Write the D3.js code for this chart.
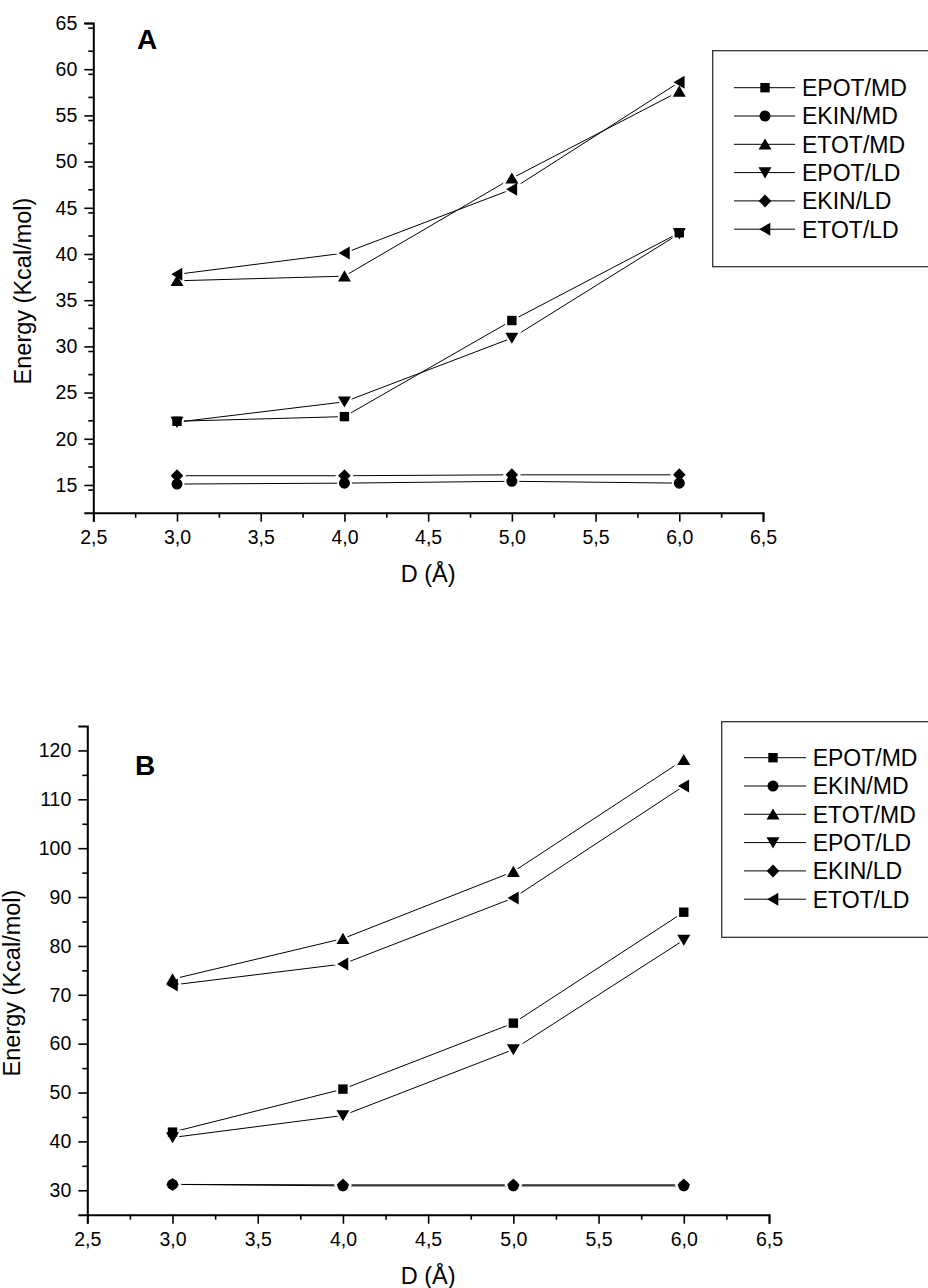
<!DOCTYPE html>
<head>
  <meta charset="UTF-8">
  <title>energy</title>
  <style>
  body, html, svg{
    padding: 0;
    margin: 0;
  }
  body{
    background: #fff;
  }
  svg text{
    font-family: "Liberation Sans", Arial, sans-serif;
    fill: #000;
  }
  </style>
</head>
<body>
  <script src="https://cdn.jsdelivr.net/npm/d3@7/dist/d3.min.js"></script>
  <script type="text/javascript">
  // data
  var distances = [3.0, 4.0, 5.0, 6.0];
  var seriesNames = ['EPOT/MD', 'EKIN/MD', 'ETOT/MD', 'EPOT/LD', 'EKIN/LD', 'ETOT/LD'];
  var seriesMarkers = ['square', 'circle', 'up', 'down', 'diamond', 'left'];

  // panel A
  var aEpotMD = [21.9, 22.4, 32.8, 42.3];
  var aEkinMD = [15.1, 15.2, 15.4, 15.2];
  var aEtotMD = [37.1, 37.6, 48.2, 57.6];
  var aEpotLD = [21.8, 24.0, 30.9, 42.2];
  var aEkinLD = [16.0, 16.0, 16.1, 16.1];
  var aEtotLD = [37.8, 40.1, 47.0, 58.6];
  var aYTicks = [15, 20, 25, 30, 35, 40, 45, 50, 55, 60, 65];

  // panel B
  var bEpotMD = [41.9, 50.7, 64.2, 86.9];
  var bEkinMD = [31.2, 30.9, 30.9, 30.9];
  var bEtotMD = [73.2, 81.5, 95.2, 118.1];
  var bEpotLD = [40.8, 45.3, 58.8, 81.2];
  var bEkinLD = [31.2, 31.1, 31.1, 31.1];
  var bEtotLD = [72.0, 76.3, 89.8, 112.7];
  var bYTicks = [30, 40, 50, 60, 70, 80, 90, 100, 110, 120];

  var xTicks = [2.5, 3.0, 3.5, 4.0, 4.5, 5.0, 5.5, 6.0, 6.5];

  var svg = d3.select('body').append('svg')
    .attr('width', 928)
    .attr('height', 1288);

  var comma = d3.formatLocale({decimal: ',', thousands: '.', grouping: [3], currency: ['', '']});
  var fmtX = comma.format('.1f');

  // marker shapes, centred on 0,0
  function markerPath(kind) {
    if (kind === 'square') return 'M-4.7,-4.7H4.7V4.7H-4.7Z';
    if (kind === 'circle') return 'M5.5,0A5.5,5.5 0 1,1 -5.5,0A5.5,5.5 0 1,1 5.5,0Z';
    if (kind === 'up') return 'M0,-5.8L6.5,5.3L-6.5,5.3Z';
    if (kind === 'down') return 'M0,5.8L6.5,-5.3L-6.5,-5.3Z';
    if (kind === 'diamond') return 'M0,-6.5L6.3,0L0,6.5L-6.3,0Z';
    if (kind === 'left') return 'M-5.8,0L5.3,-6.5L5.3,6.5Z';
  }

  function drawPanel(p) {
    var g = svg.append('g');
    var x = d3.scaleLinear().domain([2.5, 6.5]).range([p.left, p.right]);
    var y = d3.scaleLinear().domain(p.yDomain).range([p.bottom, p.top]);

    var xMinor = d3.range(2.75, 6.5, 0.5);
    var yMinor = d3.range(p.yDomain[0], p.yDomain[1], p.yStep / 2).filter(function(v) {
      return p.yTicks.indexOf(v) < 0 && v > p.yDomain[0];
    });

    // axes
    var xAxis = g.append('g').attr('transform', 'translate(0,' + p.bottom + ')')
      .call(d3.axisBottom(x).tickValues(xTicks).tickFormat(fmtX).tickSize(9).tickPadding(5));
    g.append('g').attr('transform', 'translate(0,' + p.bottom + ')')
      .call(d3.axisBottom(x).tickValues(xMinor).tickFormat('').tickSize(5))
      .select('.domain').remove();
    g.append('g').attr('transform', 'translate(' + p.left + ',0)')
      .call(d3.axisLeft(y).tickValues(p.yTicks).tickSize(9).tickPadding(7));
    g.append('g').attr('transform', 'translate(' + p.left + ',0)')
      .call(d3.axisLeft(y).tickValues(yMinor).tickFormat('').tickSize(5))
      .select('.domain').remove();

    g.selectAll('.domain').attr('stroke', '#000').attr('stroke-width', 2);
    g.selectAll('.tick line').attr('stroke', '#000').attr('stroke-width', 1.6);
    g.selectAll('.tick text').style('font-size', '19.5px').attr('fill', '#000')
      .style('font-family', '"Liberation Sans", Arial, sans-serif');
    xAxis.selectAll('.tick text').attr('dy', '0.9em');

    // axis titles
    g.append('text')
      .attr('transform', 'translate(' + p.yLabelX + ',' + p.yLabelY + ') rotate(-90)')
      .attr('text-anchor', 'middle')
      .style('font-size', '23.5px')
      .text('Energy (Kcal/mol)');
    g.append('text')
      .attr('x', (p.left + p.right) / 2)
      .attr('y', p.bottom + 69)
      .attr('text-anchor', 'middle')
      .style('font-size', '23.5px')
      .text('D (Å)');

    // panel letter
    g.append('text')
      .attr('x', p.letterX)
      .attr('y', p.letterY)
      .style('font-size', '28px')
      .style('font-weight', 'bold')
      .text(p.letter);

    // lines
    var line = d3.line()
      .x(function(d, i) { return x(distances[i]); })
      .y(function(d) { return y(d); });

    g.selectAll('path.series')
      .data(p.series)
      .enter()
      .append('path')
      .attr('class', 'series')
      .attr('d', line)
      .attr('fill', 'none')
      .attr('stroke', '#000')
      .attr('stroke-width', 1);

    // white gap round the markers, then the markers
    var halo = g.append('g');
    var marks = g.append('g');
    p.series.forEach(function(vals, s) {
      vals.forEach(function(v, i) {
        var t = 'translate(' + x(distances[i]) + ',' + y(v) + ')';
        halo.append('path').attr('d', markerPath(seriesMarkers[s])).attr('transform', t)
          .attr('fill', '#fff').attr('stroke', '#fff').attr('stroke-width', 4);
        marks.append('path').attr('d', markerPath(seriesMarkers[s])).attr('transform', t)
          .attr('fill', '#000');
      });
    });

    // legend
    var lg = g.append('g');
    lg.append('rect')
      .attr('x', p.legX)
      .attr('y', p.legTop)
      .attr('width', 300)
      .attr('height', p.legBottom - p.legTop)
      .attr('fill', '#fff')
      .attr('stroke', '#333')
      .attr('stroke-width', 1.3);
    seriesNames.forEach(function(name, s) {
      var cy = p.legFirst + s * 28.3;
      lg.append('line')
        .attr('x1', p.legLine[0]).attr('x2', p.legLine[1])
        .attr('y1', cy).attr('y2', cy)
        .attr('stroke', '#000').attr('stroke-width', 1);
      lg.append('path').attr('d', markerPath(seriesMarkers[s]))
        .attr('transform', 'translate(' + p.legMarker + ',' + cy + ')')
        .attr('fill', '#000');
      lg.append('text')
        .attr('x', p.legText)
        .attr('y', cy + 8.3)
        .style('font-size', '23px')
        .text(name);
    });
  }

  drawPanel({
    left: 93.3, right: 763, top: 23, bottom: 512.7,
    yDomain: [12, 65], yTicks: aYTicks, yStep: 5,
    yLabelX: 31, yLabelY: 291,
    letter: 'A', letterX: 137, letterY: 49,
    series: [aEpotMD, aEkinMD, aEtotMD, aEpotLD, aEkinLD, aEtotLD],
    legX: 712.7, legTop: 50.7, legBottom: 266.7, legFirst: 87.7,
    legLine: [734, 795], legMarker: 765, legText: 802
  });

  drawPanel({
    left: 87.3, right: 769, top: 726, bottom: 1214.7,
    yDomain: [25, 125], yTicks: bYTicks, yStep: 10,
    yLabelX: 20, yLabelY: 983,
    letter: 'B', letterX: 135, letterY: 775,
    series: [bEpotMD, bEkinMD, bEtotMD, bEpotLD, bEkinLD, bEtotLD],
    legX: 721.7, legTop: 721.7, legBottom: 937.3, legFirst: 757.7,
    legLine: [744, 806], legMarker: 773, legText: 812.7
  });
  </script>
</body>
</html>
